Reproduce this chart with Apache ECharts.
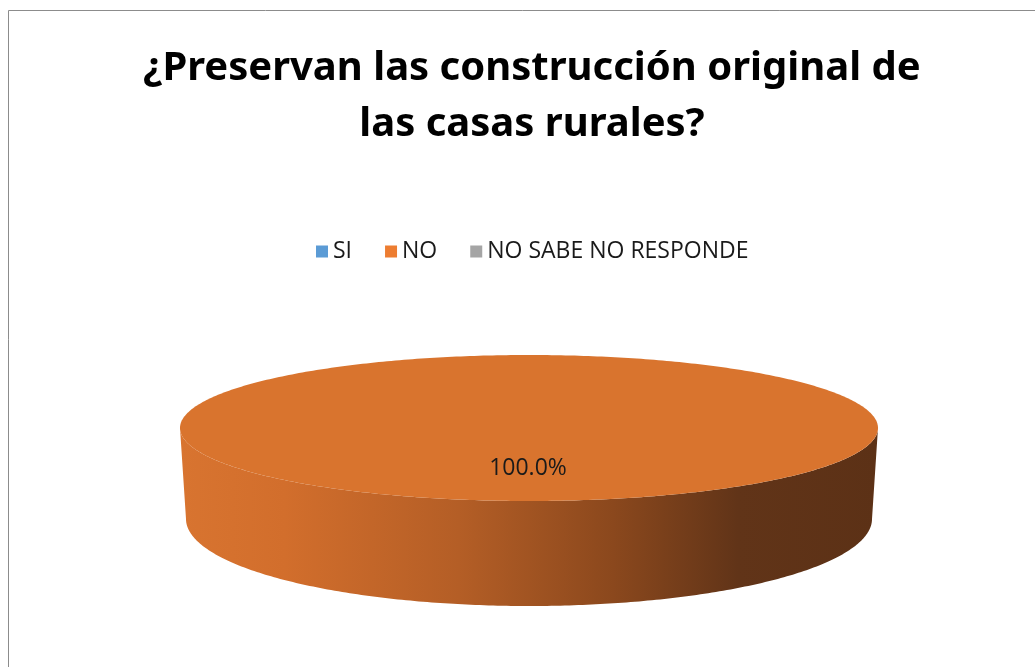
<!DOCTYPE html>
<html>
<head>
<meta charset="utf-8">
<script src="https://cdn.jsdelivr.net/npm/echarts@6/dist/echarts.min.js"></script>
<style>
html,body{margin:0;padding:0;background:#fff;}
#chart{width:1035px;height:667px;}
</style>
</head>
<body>
<div id="chart"></div>
<script>
// ---- data ----
var titleText = '¿Preservan las construcción original de\nlas casas rurales?';
var categories = ['SI', 'NO', 'NO SABE NO RESPONDE'];
var values = [0, 100, 0];
var colors = ['#5b9bd5', '#d9742e', '#a5a5a5'];
var legendColors = ['#5b9bd5', '#ed7d31', '#a5a5a5'];

var chart = echarts.init(document.getElementById('chart'));

var total = values.reduce(function (a, b) { return a + b; }, 0);

// geometry of the tilted pie (top face and bottom rim ellipses)
var TOP = { cx: 529, cy: 428, rx: 349, ry: 73 };
var BOT = { cx: 529, cy: 519, rx: 343, ry: 87 };

function ept(e, a) { return [e.cx + e.rx * Math.cos(a), e.cy + e.ry * Math.sin(a)]; }

function sliceAngles(idx) {
  var start = -Math.PI / 2, acc = 0;
  for (var i = 0; i < idx; i++) acc += values[i];
  var a0 = start + acc / total * 2 * Math.PI;
  var a1 = a0 + values[idx] / total * 2 * Math.PI;
  return [a0, a1];
}

function makeRender(idx) {
  return function (params, api) {
    var v = values[idx];
    if (!v) return { type: 'group', children: [] };
    var ang = sliceAngles(idx);
    var a0 = ang[0], a1 = ang[1];
    var N = 240;
    var children = [];
    var ranges = [];
    [[0, Math.PI], [2 * Math.PI, 3 * Math.PI]].forEach(function (r) {
      var lo = Math.max(a0, r[0]), hi = Math.min(a1, r[1]);
      if (hi > lo) ranges.push([lo, hi]);
    });
    ranges.forEach(function (r) {
      var pts = [];
      for (var k = 0; k <= N; k++) pts.push(ept(TOP, r[0] + (r[1] - r[0]) * k / N));
      for (var k2 = N; k2 >= 0; k2--) pts.push(ept(BOT, r[0] + (r[1] - r[0]) * k2 / N));
      children.push({
        type: 'polygon',
        shape: { points: pts },
        style: {
          fill: {
            type: 'linear', x: 0, y: 0, x2: 1, y2: 0,
            colorStops: [
              { offset: 0, color: '#d87430' },
              { offset: 0.15, color: '#d26e2c' },
              { offset: 0.4, color: '#b45e26' },
              { offset: 0.62, color: '#8b481d' },
              { offset: 0.8, color: '#613418' },
              { offset: 1, color: '#5c3116' }
            ]
          }
        }
      });
    });
    // top face
    var tp = [];
    if (a1 - a0 >= 2 * Math.PI - 1e-9) {
      for (var t = 0; t < N * 2; t++) tp.push(ept(TOP, a0 + 2 * Math.PI * t / (N * 2)));
    } else {
      tp.push([TOP.cx, TOP.cy]);
      for (var t2 = 0; t2 <= N; t2++) tp.push(ept(TOP, a0 + (a1 - a0) * t2 / N));
    }
    children.push({ type: 'polygon', shape: { points: tp }, style: { fill: colors[idx] } });
    // data label
    var pct = (v / total * 100).toFixed(1) + '%';
    var lx, ly;
    if (a1 - a0 >= 2 * Math.PI - 1e-9) { lx = TOP.cx - 1; ly = TOP.cy + 40; }
    else { var m = (a0 + a1) / 2; lx = TOP.cx + TOP.rx * 0.6 * Math.cos(m); ly = TOP.cy + TOP.ry * 0.6 * Math.sin(m); }
    children.push({
      type: 'text',
      style: {
        text: pct, x: lx, y: ly, align: 'center', verticalAlign: 'middle',
        fill: '#1a1a1a', font: '23px "Open Sans", sans-serif'
      }
    });
    return { type: 'group', children: children };
  };
}

var series = categories.map(function (name, i) {
  return {
    type: 'custom',
    name: name,
    coordinateSystem: 'none',
    itemStyle: { color: legendColors[i] },
    data: [[values[i]]],
    renderItem: makeRender(i),
    silent: true
  };
});

chart.setOption({
  animation: false,
  backgroundColor: '#ffffff',
  color: legendColors,
  title: {
    text: titleText,
    left: 527,
    top: 36,
    textAlign: 'center',
    textStyle: {
      fontFamily: '"Noto Sans", sans-serif',
      fontWeight: 'bold',
      fontSize: 40,
      lineHeight: 56,
      color: '#000000'
    }
  },
  legend: {
    data: categories,
    left: 311,
    top: 235,
    icon: 'rect',
    itemWidth: 12,
    itemHeight: 12,
    itemGap: 33,
    selectedMode: false,
    textStyle: { fontFamily: '"Open Sans", sans-serif', fontSize: 23, color: '#1a1a1a' }
  },
  graphic: [{
    type: 'rect',
    shape: { x: 8.5, y: 10.5, width: 1200, height: 800 },
    style: { fill: 'none', stroke: '#8c8c8c', lineWidth: 1 },
    silent: true,
    z: -10
  }],
  series: series
});
</script>
</body>
</html>
